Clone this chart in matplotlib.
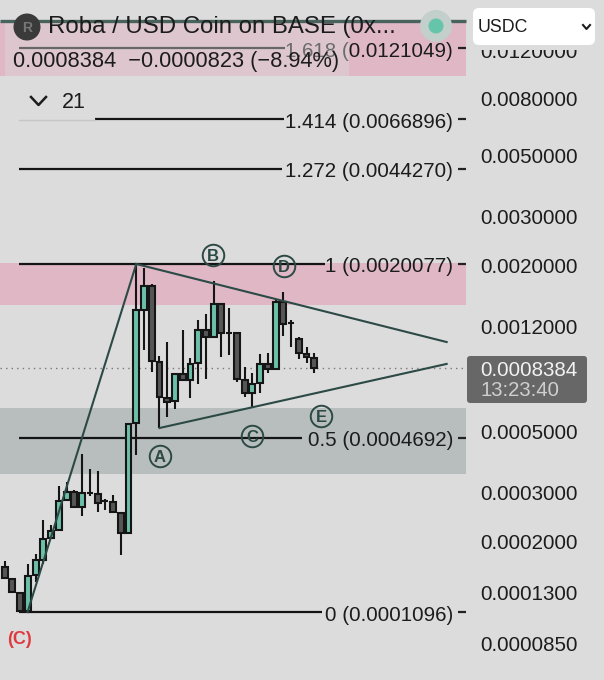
import numpy as np
import matplotlib
matplotlib.use("Agg")
import matplotlib.pyplot as plt
from matplotlib.patches import Circle, FancyBboxPatch, Rectangle

plt.rcParams['font.family'] = ['Liberation Sans', 'DejaVu Sans']

# candles, oldest first
high = [.0001679,.0001448,.0001285,.0001637,.0001780,.0002363,.0002267,.0003130,.0003253,.0003035,.0004098,.0003607,.0003557,.0002823,.0002904,.0002499,.0005264,.0020000,.0019295,.0016926,.0009283,.0010459,.0007969,.0011532,.0009107,.0012535,.0013179,.0017399,.0014325,.0013820,.0011219,.0008448,.0008036,.0009416,.0009542,.0014811,.0015873,.0012535,.0010905,.0009982,.0009542]
body_top = [.0001593,.0001448,.0001285,.0001485,.0001688,.0002017,.0002156,.0002762,.0002985,.0002985,.0002953,.0002968,.0002936,.0002769,.0002746,.0002499,.0005264,.0013626,.0016646,.0016646,.0008852,.0006523,.0007969,.0007969,.0008684,.0011532,.0011532,.0014325,.0014325,.0011275,.0011219,.0007599,.0007331,.0008662,.0008662,.0014530,.0014530,.0012195,.0010725,.0009463,.0009130]
body_bot = [.0001457,.0001293,.0001103,.0001103,.0001494,.0001697,.0002029,.0002169,.0002785,.0002634,.0002640,.0002968,.0002716,.0002769,.0002520,.0002115,.0002115,.0005308,.0013626,.0008926,.0006577,.0006340,.0006362,.0007599,.0007599,.0008735,.0010905,.0010905,.0011275,.0011275,.0007643,.0006835,.0006801,.0007392,.0008350,.0008350,.0012093,.0012195,.0009495,.0009183,.0008378]
low = [.0001457,.0001293,.0001088,.0001103,.0001409,.0001637,.0002029,.0002169,.0002785,.0002634,.0002449,.0002887,.0002533,.0002569,.0002520,.0001765,.0002115,.0004064,.0009760,.0008144,.0005091,.0005567,.0005951,.0007599,.0006523,.0007349,.0007643,.0010905,.0009229,.0009361,.0007454,.0006610,.0006001,.0006801,.0008036,.0008350,.0010996,.0009982,.0009076,.0008779,.0008036]
green_bars = [3,4,5,6,7,8,10,16,17,18,22,24,25,27,32,33,35]

# fib levels
fib_names = ['1.618', '1.414', '1.272', '1', '0.5', '0']
fib_prices = [0.0121049, 0.0066896, 0.0044270, 0.0020077, 0.0004692, 0.0001096]
fib_labels = [f'{n} ({p:.7f})' for n, p in zip(fib_names, fib_prices)]

# price scale
tick_prices = [0.0120000, 0.0080000, 0.0050000, 0.0030000, 0.0020000, 0.0012000,
               0.0005000, 0.0003000, 0.0002000, 0.0001300, 0.0000850]
last_price = 0.0008384

# zones (low, high)
pink_zones = [(0.0096, 0.01506), (0.00142, 0.00202)]
grey_zone = (0.000347, 0.000602)

# wave drawing
wave_x = [2.95, 17]
wave_y = [0.0001096, 0.0020000]
top_x = [17, 57.1]
top_y = [0.0020000, 0.001043]
bot_x = [20, 57.1]
bot_y = [0.0005091, 0.000869]
wave_names = ['A', 'B', 'C', 'D', 'E']
wave_idx = [20.06, 26.9, 32.0, 36.1, 40.9]
wave_px = [0.000403, 0.002156, 0.000476, 0.001967, 0.000563]

BG = '#dcdcdc'
DARK = '#2c4a45'
W, H = 604, 680

fig = plt.figure(figsize=(W / 100, H / 100), dpi=100, facecolor=BG)
ax = fig.add_axes([0, 0, 1, 1], facecolor=BG)
ax.set_yscale('log')
ax.set_xlim(-0.607, 77.43)
ax.set_ylim(0.002 * 10 ** (-416 / 276), 0.002 * 10 ** (264 / 276))
ax.axis('off')

frac = ax.get_yaxis_transform()


def label(xf, p, s, ha, size):
    # center_baseline sits a pixel high, nudge it down
    ax.annotate(s, (xf, p), xycoords=frac, xytext=(0, -0.8), textcoords='offset points',
                ha=ha, va='center_baseline', fontsize=size, color='#1c1c1c', zorder=6)


# zones
for lo, hi in pink_zones:
    ax.add_patch(Rectangle((0, lo), 466 / W, hi - lo, transform=frac, color='#dfb7c5', lw=0, zorder=1))
ax.add_patch(Rectangle((0, grey_zone[0]), 466 / W, grey_zone[1] - grey_zone[0], transform=frac,
                       color='#b8bebe', lw=0, zorder=1))

# last price dotted line
ax.plot([0, 467 / W], [last_price, last_price], transform=frac, color='#777777', lw=1, ls=(0, (1, 3)), zorder=2)

# fib lines, the 1.414 one starts later
fib_start = [19, 95, 19, 19, 19, 19]
fib_end = [285, 284, 282, 325, 302, 322]
for p, s, e, lab in zip(fib_prices, fib_start, fib_end, fib_labels):
    ax.plot([s / W, e / W], [p, p], transform=frac, color='#141414', lw=1.6, zorder=3, solid_capstyle='butt')
    label(453 / W, p, lab, 'right', 14.8)
    ax.plot([458 / W, 466 / W], [p, p], transform=frac, color='#222222', lw=1.6, zorder=3, solid_capstyle='butt')

# candles
x = np.arange(len(high))
colors = ['#6cc0aa' if i in green_bars else '#565656' for i in x]
ax.vlines(x, low, high, color='#151515', lw=1.5, zorder=4)
heights = np.array(body_top) - np.array(body_bot)
ax.bar(x, heights, bottom=body_bot, width=0.76, color=colors, edgecolor='#151515', lw=1.5, zorder=5)

# triangle and wave line
ax.plot(wave_x, wave_y, color=DARK, lw=1.5, zorder=6)
ax.plot(top_x, top_y, color=DARK, lw=1.5, zorder=6)
ax.plot(bot_x, bot_y, color=DARK, lw=1.5, zorder=6)
for n, xi, p in zip(wave_names, wave_idx, wave_px):
    ax.plot(xi, p, 'o', ms=15.5, mfc='none', mec=DARK, mew=1.4, zorder=6)
    ax.text(xi, p, n, ha='center', va='center_baseline', fontsize=12, color=DARK, fontweight='bold', zorder=6)

# price scale
for p in tick_prices:
    label(480 / W, p, f'{p:.7f}', 'left', 14.8)

# ui on top, in pixels
ui = fig.add_axes([0, 0, 1, 1], facecolor='none')
ui.set_xlim(0, W)
ui.set_ylim(H, 0)
ui.axis('off')

ui.add_patch(Rectangle((5, 22), 344, 54, color=BG, alpha=0.42, lw=0, zorder=1))
ui.plot([0, 466], [20.5, 20.5], color='#48625c', lw=2.4, zorder=2, solid_capstyle='butt')

ui.add_patch(Circle((436, 26), 16, color='#c3cfcb', lw=0, zorder=3))
ui.add_patch(Circle((436, 26), 7.5, color='#66c4ab', lw=0, zorder=4))
ui.add_patch(Circle((27, 27), 13.5, color='#3a3a3a', lw=0, zorder=4))
ui.text(27, 27.5, 'R', ha='center', va='center', fontsize=10, color='#777777', fontweight='bold', zorder=5)
ui.text(48, 27, 'Roba / USD Coin on BASE (0x...', ha='left', va='center', fontsize=17.3, color='#1c1c1c', zorder=5)
ui.text(13, 62, '0.0008384  \u22120.0000823 (\u22128.94%)', ha='left', va='center', fontsize=15.65, color='#1c1c1c', zorder=5)

# collapse toggle
ui.plot([31, 38.5, 46], [97, 105, 97], color='#1c1c1c', lw=1.8, zorder=5)
ui.text(62, 102, '21', ha='left', va='center', fontsize=15.5, color='#1c1c1c', zorder=5)
ui.plot([19, 95], [119.5, 119.5], color='#c6c6c6', lw=1, zorder=2)

# currency dropdown, the top of the price scale slides under it
ui.add_patch(Rectangle((470, 0), 134, 50, color=BG, lw=0, zorder=5))
ui.add_patch(FancyBboxPatch((476, 11), 116, 31, boxstyle='round,pad=3,rounding_size=6', fc='white', ec='none', zorder=6))
ui.text(478, 27, 'USDC', ha='left', va='center', fontsize=12.8, color='#1c1c1c', zorder=7)
ui.plot([583, 586.5, 590], [25, 29, 25], color='#1c1c1c', lw=1.5, zorder=7)

# last price tag
ui.add_patch(FancyBboxPatch((470, 359), 114, 41, boxstyle='round,pad=3,rounding_size=3', fc='#676767', ec='none', zorder=6))
ui.text(480, 370, f'{last_price:.7f}', ha='left', va='center', fontsize=14.8, color='#f2f2f2', zorder=7)
ui.text(480, 391, '13:23:40', ha='left', va='center', fontsize=14.6, color='#cfcfcf', zorder=7)

ui.text(7, 640, '(C)', ha='left', va='center', fontsize=13, color='#dc3b3f', fontweight='bold', zorder=7)

fig.savefig('out.png', dpi=100, facecolor=BG)
